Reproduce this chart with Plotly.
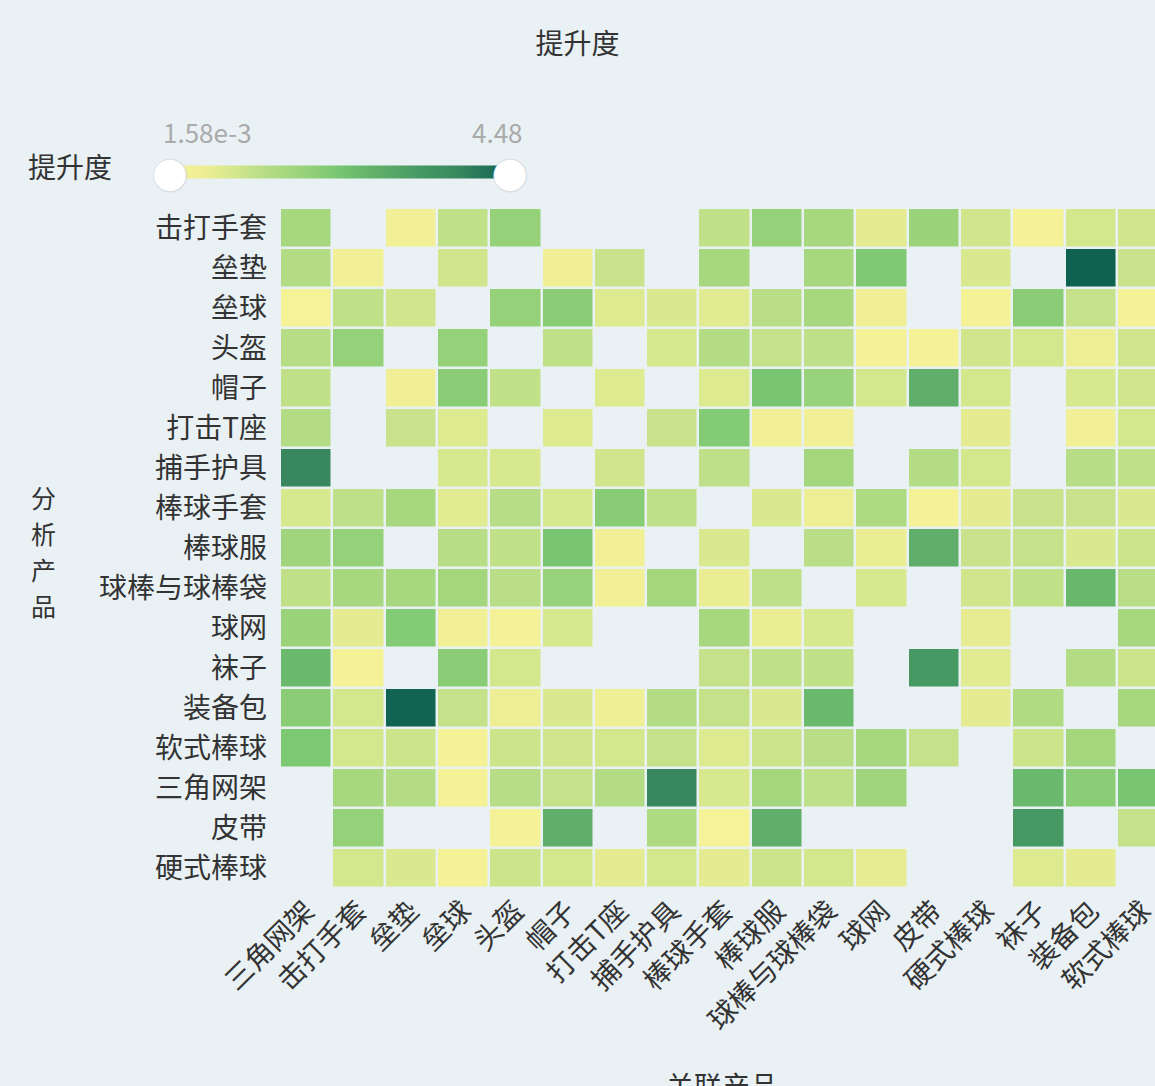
import plotly.graph_objects as go

x_labels = ['三角网架', '击打手套', '垒垫', '垒球', '头盔', '帽子', '打击T座', '捕手护具', '棒球手套',
            '棒球服', '球棒与球棒袋', '球网', '皮带', '硬式棒球', '袜子', '装备包', '软式棒球']
y_labels = ['击打手套', '垒垫', '垒球', '头盔', '帽子', '打击T座', '捕手护具', '棒球手套', '棒球服',
            '球棒与球棒袋', '球网', '袜子', '装备包', '软式棒球', '三角网架', '皮带', '硬式棒球']

N = None
row_击打手套 = [1.5, N, 0.3, 1.1, 1.8, N, N, N, 1.1, 1.8, 1.5, 0.6, 1.7, 0.9, 0.2, 0.85, 0.9]
row_垒垫 = [1.3, 0.3, N, 0.9, N, 0.35, 1.0, N, 1.5, N, 1.5, 2.1, N, 0.75, N, 4.48, 1.0]
row_垒球 = [0.1, 1.1, 0.9, N, 1.8, 1.95, 0.7, 0.75, 0.65, 1.2, 1.5, 0.35, N, 0.15, 1.95, 1.05, 0.15]
row_头盔 = [1.25, 1.8, N, 1.8, N, 1.1, N, 0.8, 1.3, 1.05, 1.15, 0.15, 0.15, 0.9, 0.85, 0.45, 0.9]
row_帽子 = [1.1, N, 0.35, 1.95, 1.1, N, 0.7, N, 0.7, 2.2, 1.75, 0.85, 2.75, 0.85, N, 0.78, 0.9]
row_打击T座 = [1.3, N, 1.0, 0.7, N, 0.7, N, 1.0, 2.05, 0.25, 0.3, N, N, 0.6, N, 0.3, 0.85]
row_捕手护具 = [3.8, N, N, 0.8, 0.8, N, 0.9, N, 1.15, N, 1.55, N, 1.3, 0.85, N, 1.25, 1.1]
row_棒球手套 = [0.8, 1.15, 1.5, 0.65, 1.25, 0.8, 2.0, 1.15, N, 0.75, 0.45, 1.4, 0.15, 0.6, 1.0, 1.0, 0.75]
row_棒球服 = [1.6, 1.8, N, 1.25, 1.1, 2.2, 0.3, N, 0.75, N, 1.2, 0.5, 2.75, 1.0, 1.05, 0.75, 0.95]
row_球棒与球棒袋 = [1.1, 1.5, 1.5, 1.55, 1.2, 1.75, 0.3, 1.55, 0.5, 1.15, N, 0.8, N, 0.9, 1.1, 2.55, 1.2]
row_球网 = [1.7, 0.6, 2.05, 0.3, 0.15, 0.8, N, N, 1.5, 0.5, 0.8, N, N, 0.55, N, N, 1.5]
row_袜子 = [2.5, 0.15, N, 1.95, 0.85, N, N, N, 1.05, 1.1, 1.1, N, 3.3, 0.65, N, 1.3, 0.95]
row_装备包 = [1.95, 0.85, 4.45, 1.05, 0.45, 0.75, 0.4, 1.3, 1.05, 0.75, 2.5, N, N, 0.6, 1.35, N, 1.5]
row_软式棒球 = [2.15, 0.85, 0.95, 0.15, 0.95, 0.9, 0.85, 1.05, 0.7, 0.95, 1.2, 1.5, 1.05, N, 0.95, 1.55, N]
row_三角网架 = [N, 1.5, 1.3, 0.15, 1.25, 1.05, 1.3, 3.8, 0.8, 1.55, 1.15, 1.6, N, N, 2.5, 1.95, 2.2]
row_皮带 = [N, 1.8, N, N, 0.15, 2.75, N, 1.4, 0.1, 2.75, N, N, N, N, 3.3, N, 1.05]
row_硬式棒球 = [N, 0.85, 0.75, 0.15, 0.95, 0.85, 0.6, 0.85, 0.6, 0.95, 0.85, 0.55, N, N, 0.7, 0.6, N]

z_rows = [row_击打手套, row_垒垫, row_垒球, row_头盔, row_帽子, row_打击T座, row_捕手护具, row_棒球手套,
          row_棒球服, row_球棒与球棒袋, row_球网, row_袜子, row_装备包, row_软式棒球, row_三角网架,
          row_皮带, row_硬式棒球]

z_min = 1.58e-3
z_max = 4.48

y_title_chars = ['分', '析', '产', '品']

colorscale = [
    [0.0, '#f8f399'], [0.10, '#eeee94'], [0.19, '#d3e78d'], [0.27, '#b9de87'],
    [0.34, '#a6d77f'], [0.44, '#8acd76'], [0.50, '#75c571'], [0.60, '#62b06a'],
    [0.74, '#459863'], [0.85, '#38875f'], [1.0, '#0f6152'],
]

BG = '#e9f1f5'
FONT = 'Noto Sans CJK SC'
TXT = '#333333'
FS = 28

W, H = 1155, 1086
L, T, B = 280, 208, 198
PW = W - L
PH = H - T - B


def px(xp):
    return (xp - L) / PW


def py(yp):
    return (H - B - yp) / PH


fig = go.Figure(go.Heatmap(
    z=z_rows, x=x_labels, y=y_labels,
    zmin=z_min, zmax=z_max, colorscale=colorscale,
    xgap=2.5, ygap=2.5, hoverongaps=False,
    colorbar=dict(
        orientation='h', x=px(340), y=py(172), xanchor='center', yanchor='middle',
        lenmode='pixels', len=340, thickness=13, outlinewidth=0, xpad=0, ypad=0,
        showticklabels=False, ticks='',
    ),
))


def ann(text, xp, yp, size, color, family=FONT):
    return dict(text=text, x=px(xp), y=py(yp), xref='paper', yref='paper',
                xanchor='center', yanchor='middle', showarrow=False,
                font=dict(size=size, color=color, family=family))


annotations = [ann(ch, 43, 497 + 36 * i, 25, TXT) for i, ch in enumerate(y_title_chars)]
annotations += [
    ann('关联产品', 722, 1085, FS, TXT),
    ann('提升度', 70, 166, FS, TXT),
    ann('1.58e-3', 207, 132, 26, '#aaaaaa'),
    ann('4.48', 497, 132, 26, '#aaaaaa'),
]
for hx in (170, 510):
    annotations.append(ann('●', hx, 172, 44, '#d8dee2', 'DejaVu Sans'))
    annotations.append(ann('●', hx, 172, 41, '#ffffff', 'DejaVu Sans'))

fig.update_layout(
    width=W, height=H,
    margin=dict(l=L, r=0, t=T, b=B, pad=0, autoexpand=False),
    paper_bgcolor=BG, plot_bgcolor=BG,
    font=dict(family=FONT, color=TXT),
    title=dict(text='提升度', xref='container', x=0.5, xanchor='center',
               yref='container', y=1 - 44 / H, yanchor='middle',
               font=dict(size=FS, color=TXT, family=FONT)),
    xaxis=dict(type='category', categoryorder='array', categoryarray=x_labels,
               range=[-0.5, 16.23], showgrid=False, zeroline=False, showline=False,
               ticks='', tickangle=-45, tickfont=dict(size=FS, color=TXT, family=FONT),
               automargin=False, fixedrange=True),
    yaxis=dict(type='category', categoryorder='array', categoryarray=y_labels,
               autorange='reversed', showgrid=False, zeroline=False, showline=False,
               ticks='', tickfont=dict(size=FS, color=TXT, family=FONT),
               ticklabelstandoff=12, automargin=False, fixedrange=True),
    annotations=annotations,
)

fig.write_html("out.html", config={'displayModeBar': False},
               post_script="document.body.style.margin='0';document.body.style.overflow='hidden';")
